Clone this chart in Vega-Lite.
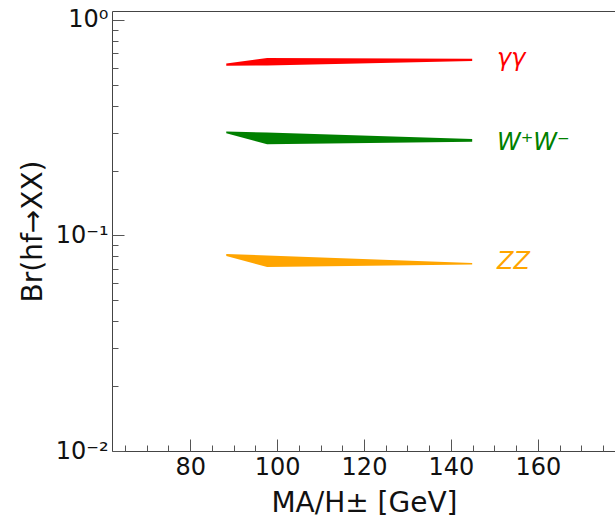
{
  "$schema": "https://vega.github.io/schema/vega-lite/v6.json",
  "autosize": {"type": "none"},
  "padding": {"left": 112, "top": 11, "right": 0, "bottom": 70},
  "width": 504,
  "height": 440,
  "background": "white",
  "config": {
    "font": "DejaVu Sans",
    "view": {"stroke": "#444", "strokeWidth": 1},
    "axis": {
      "domain": false,
      "grid": false,
      "tickColor": "#555",
      "tickWidth": 1,
      "labelFont": "DejaVu Sans",
      "labelFontSize": 24,
      "labelColor": "#111",
      "labelFlush": false,
      "titleFont": "DejaVu Sans",
      "titleFontSize": 28,
      "titleFontWeight": "normal",
      "titleColor": "#111"
    }
  },
  "datasets": {
    "bands": [
      {"channel": "γγ", "M": 88.3, "lo": 0.613, "hi": 0.627},
      {"channel": "γγ", "M": 97.7, "lo": 0.615, "hi": 0.666},
      {"channel": "γγ", "M": 144.9, "lo": 0.644, "hi": 0.66},
      {"channel": "W⁺W⁻", "M": 88.3, "lo": 0.298, "hi": 0.304},
      {"channel": "W⁺W⁻", "M": 97.7, "lo": 0.265, "hi": 0.3},
      {"channel": "W⁺W⁻", "M": 144.9, "lo": 0.272, "hi": 0.28},
      {"channel": "ZZ", "M": 88.3, "lo": 0.0804, "hi": 0.082},
      {"channel": "ZZ", "M": 97.7, "lo": 0.0714, "hi": 0.0808},
      {"channel": "ZZ", "M": 144.9, "lo": 0.0733, "hi": 0.0745}
    ],
    "labels": [
      {"channel": "γγ", "M": 150.6, "br": 0.608},
      {"channel": "W⁺W⁻", "M": 150.6, "br": 0.249},
      {"channel": "ZZ", "M": 150.6, "br": 0.0699}
    ]
  },
  "resolve": {"axis": {"x": "independent"}},
  "layer": [
    {
      "data": {"name": "bands"},
      "mark": {"type": "area", "orient": "vertical", "opacity": 1},
      "encoding": {
        "x": {
          "field": "M", "type": "quantitative",
          "scale": {"domain": [62, 178], "nice": false, "zero": false},
          "axis": {
            "orient": "bottom",
            "title": "MA/H± [GeV]",
            "values": [80, 100, 120, 140, 160],
            "labelOverlap": false,
            "tickSize": -12,
            "labelPadding": 16,
            "titlePadding": 10
          }
        },
        "y": {
          "field": "hi", "type": "quantitative",
          "scale": {"type": "log", "domain": [0.01, 1.1], "nice": false},
          "axis": {
            "title": "Br(hf→XX)",
            "values": [0.01,0.02,0.03,0.04,0.05,0.06,0.07,0.08,0.09,0.1,0.2,0.3,0.4,0.5,0.6,0.7,0.8,0.9,1],
            "labelOverlap": "greedy",
            "labelExpr": "datum.value == 1 ? '10⁰' : datum.value == 0.1 ? '10⁻¹' : datum.value == 0.01 ? '10⁻²' : ''",
            "tickSize": {"condition": {"test": "datum.value == 1 || datum.value == 0.1 || datum.value == 0.01", "value": -12}, "value": -6},
            "labelPadding": 16,
            "titlePadding": 8
          }
        },
        "y2": {"field": "lo"},
        "color": {
          "field": "channel", "type": "nominal",
          "scale": {"domain": ["γγ", "W⁺W⁻", "ZZ"], "range": ["#ff0000", "#008000", "#ffa500"]},
          "legend": null
        }
      }
    },
    {
      "data": {"name": "labels"},
      "mark": {"type": "text", "align": "left", "baseline": "alphabetic", "fontSize": 24, "fontStyle": "italic", "font": "DejaVu Sans"},
      "encoding": {
        "x": {
          "field": "M", "type": "quantitative",
          "axis": {
            "orient": "bottom",
            "title": null,
            "labels": false,
            "values": [65,70,75,85,90,95,105,110,115,125,130,135,145,150,155,165,170,175],
            "tickSize": -6
          }
        },
        "y": {"field": "br", "type": "quantitative"},
        "text": {"field": "channel"},
        "color": {"field": "channel", "type": "nominal", "legend": null}
      }
    }
  ]
}
